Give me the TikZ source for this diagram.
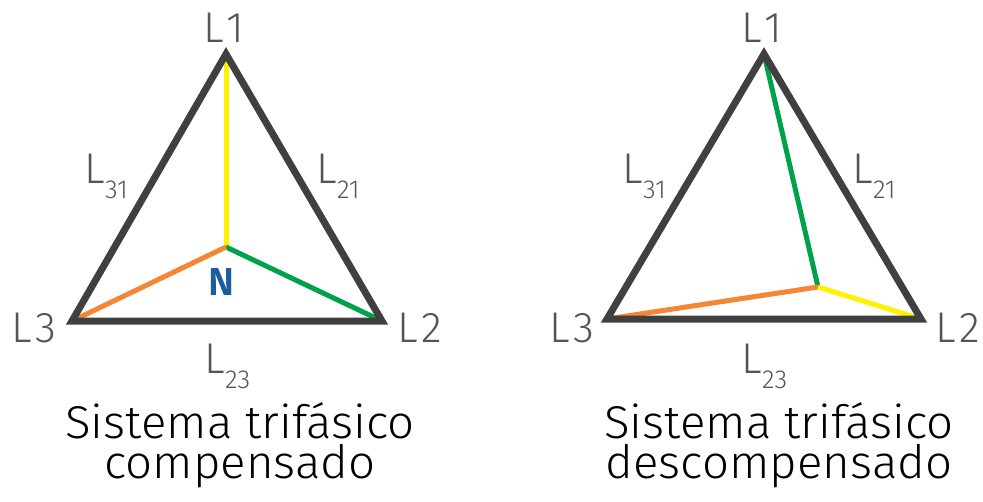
\documentclass[tikz,border=0pt]{standalone}
\usepackage{fontspec}
\setmainfont{Fira Sans Light}[BoldFont={Fira Sans SemiBold}]
\definecolor{tri}{HTML}{404040}
\definecolor{lbl}{HTML}{555555}
\definecolor{yel}{HTML}{FFF200}
\definecolor{grn}{HTML}{00A14B}
\definecolor{org}{HTML}{F58634}
\definecolor{nblue}{HTML}{1B5E9E}
\newcommand{\Lsub}[1]{L\kern0.5pt\raisebox{-15pt}{\fontsize{26}{26}\selectfont #1}}
\newcommand{\Lnum}[1]{L\kern3pt #1}
\tikzset{
  triline/.style={draw=tri, line width=7pt, line join=miter},
  phase/.style={line width=5pt},
  corner/.style={font=\fontsize{43}{43}\selectfont, text=lbl, anchor=base, inner sep=0pt},
  sidelbl/.style={font=\fontsize{43}{43}\selectfont, text=lbl, anchor=base west, inner sep=0pt},
  caption/.style={font=\fontsize{46}{40}\selectfont, text=black, anchor=base, inner sep=0pt,
                  align=center},
}
\begin{document}
\begin{tikzpicture}[x=1pt,y=-1pt]
\useasboundingbox (0,0) rectangle (983,501);
% ---------- left: compensated ----------
\coordinate (a1) at (226,54);
\coordinate (a2) at (382,321);
\coordinate (a3) at (72,321);
\coordinate (n) at (226,247);
\draw[phase, yel] (a1) -- (n);
\draw[phase, grn] (n) -- (a2);
\draw[phase, org] (n) -- (a3);
\draw[triline] (a1) -- (a2) -- (a3) -- cycle;
\node[corner] (l1a) at (224,42) {\Lnum{1}};
\node[corner] (l2a) at (420,342) {\Lnum{2}};
\node[corner] (l3a) at (34,342) {\Lnum{3}};
\node[font=\fontsize{39}{39}\selectfont\bfseries, text=nblue, anchor=base, inner sep=0pt] (na) at (222,295) {N};
\node[sidelbl] (l31a) at (84,183) {\Lsub{31}};
\node[sidelbl] (l21a) at (316,183) {\Lsub{21}};
\node[sidelbl] (l23a) at (204,373) {\Lsub{23}};
\node[caption] (capa) at (240,478) {\scalebox{1.03}[1]{Sistema trifásico}\\\scalebox{1.03}[1]{compensado}};
% ---------- right: uncompensated ----------
\coordinate (b1) at (764,54);
\coordinate (b2) at (921,319);
\coordinate (b3) at (607,319);
\coordinate (m) at (818,287);
\draw[phase, grn] (b1) -- (m);
\draw[phase, org] (m) -- (b3);
\draw[phase, yel] (m) -- (b2);
\draw[triline] (b1) -- (b2) -- (b3) -- cycle;
\node[corner] (l1b) at (762,42) {\Lnum{1}};
\node[corner] (l2b) at (958,342) {\Lnum{2}};
\node[corner] (l3b) at (572,342) {\Lnum{3}};
\node[sidelbl] (l31b) at (622,183) {\Lsub{31}};
\node[sidelbl] (l21b) at (852,183) {\Lsub{21}};
\node[sidelbl] (l23b) at (741,373) {\Lsub{23}};
\node[caption] (capb) at (779,478) {\scalebox{1.03}[1]{Sistema trifásico}\\\scalebox{1.03}[1]{descompensado}};
\end{tikzpicture}
\end{document}
